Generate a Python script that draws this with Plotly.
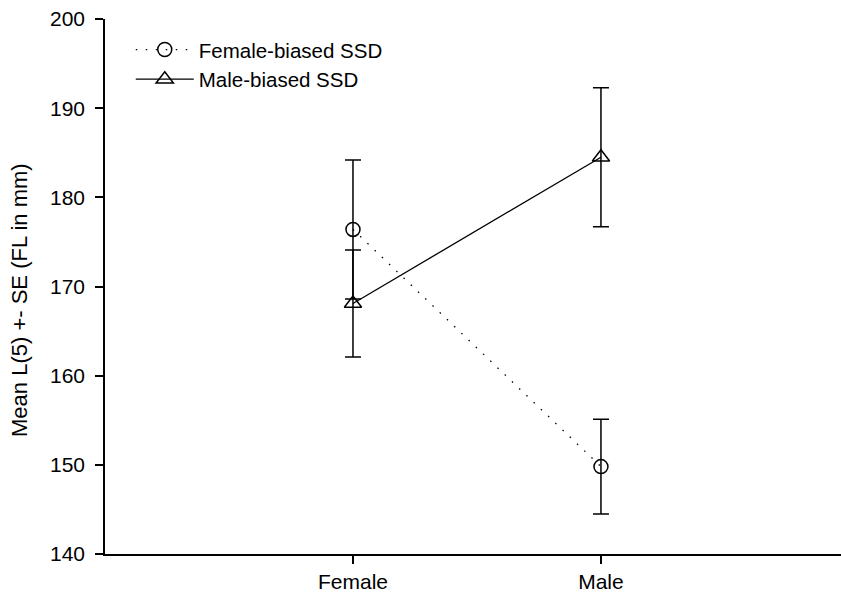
import plotly.graph_objects as go

# Group means and standard errors of L(5) (fork length, mm) by sex
sexes = ["Female", "Male"]
female_ssd_mean = [176.4, 149.8]
female_ssd_se = [7.8, 5.3]
male_ssd_mean = [168.1, 184.5]
male_ssd_se = [6.0, 7.8]

y_ticks = [140, 150, 160, 170, 180, 190, 200]
x_pos = [1, 2]
y_title = "Mean L(5) +- SE (FL in mm)"

FONT = "Arial, Liberation Sans, sans-serif"
INK = "black"

fig = go.Figure()

fig.add_trace(go.Scatter(
    x=x_pos, y=female_ssd_mean,
    name="Female-biased SSD",
    mode="lines+markers",
    line=dict(color=INK, width=1.3, dash="1.5px,8.5px"),
    marker=dict(symbol="circle-open", size=14, color=INK, line=dict(width=1.5, color=INK)),
    error_y=dict(type="data", array=female_ssd_se, visible=True,
                 color=INK, thickness=1.5, width=8),
))

fig.add_trace(go.Scatter(
    x=x_pos, y=male_ssd_mean,
    name="Male-biased SSD",
    mode="lines+markers",
    line=dict(color=INK, width=1.3),
    marker=dict(symbol="triangle-up-open", size=15, color=INK, line=dict(width=1.5, color=INK)),
    error_y=dict(type="data", array=male_ssd_se, visible=True,
                 color=INK, thickness=1.5, width=8),
))

fig.update_layout(
    width=841, height=599,
    margin=dict(l=105, r=0, t=19, b=45),
    paper_bgcolor="white", plot_bgcolor="white",
    font=dict(family=FONT, size=21, color=INK),
    showlegend=True,
    legend=dict(
        x=0.035, y=0.98, xanchor="left", yanchor="top",
        bgcolor="rgba(0,0,0,0)", borderwidth=0,
        font=dict(family=FONT, size=20.5, color=INK),
        itemwidth=58,
    ),
    # vertical axis title placed as a rotated annotation left of the tick labels
    annotations=[dict(
        text=y_title, textangle=-90,
        xref="paper", yref="paper", x=-0.1155, y=0.4748,
        xanchor="center", yanchor="middle", showarrow=False,
        font=dict(family=FONT, size=22, color=INK),
    )],
)

fig.update_xaxes(
    range=[0, 2.968],
    tickmode="array", tickvals=x_pos, ticktext=sexes,
    showline=True, linecolor=INK, linewidth=1.5,
    ticks="outside", ticklen=8, tickwidth=1.5, tickcolor=INK,
    ticklabelstandoff=0,
    showgrid=False, zeroline=False,
    tickfont=dict(family=FONT, size=21, color=INK),
)

fig.update_yaxes(
    range=[140, 200],
    tickmode="array", tickvals=y_ticks,
    showline=True, linecolor=INK, linewidth=1.5,
    ticks="outside", ticklen=8, tickwidth=1.5, tickcolor=INK,
    ticklabelstandoff=6,
    showgrid=False, zeroline=False,
    tickfont=dict(family=FONT, size=21, color=INK),
)

fig.write_html("out.html")
